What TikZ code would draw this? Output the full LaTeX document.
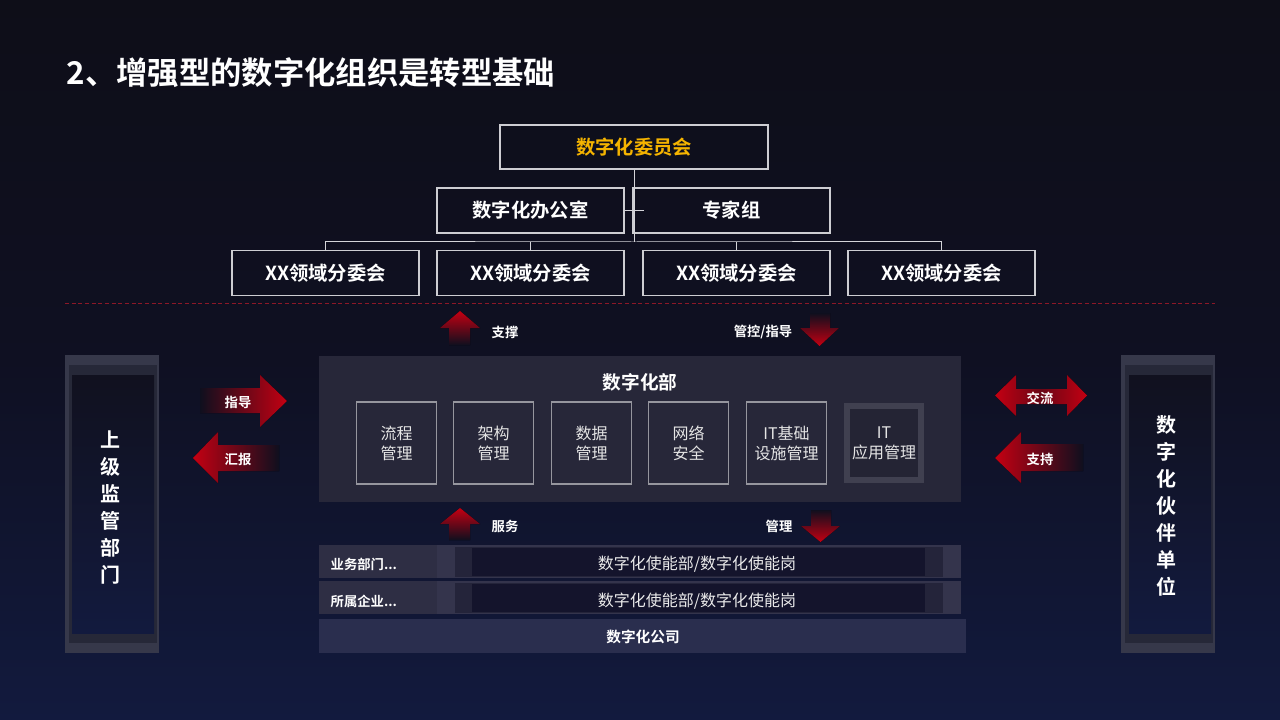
\documentclass[tikz,border=0pt]{standalone}
\usepackage{fontspec}
\setmainfont{Noto Sans CJK SC}[BoldFont={* Bold}]
\usetikzlibrary{arrows.meta}

\definecolor{bgtop}{RGB}{14,14,24}
\definecolor{bgmid}{RGB}{15,16,34}
\definecolor{bgbot}{RGB}{18,26,62}
\definecolor{tailbg}{RGB}{15,15,30}
\definecolor{panel}{RGB}{39,39,57}
\definecolor{boxline}{RGB}{205,205,210}
\definecolor{subline}{RGB}{150,150,158}
\definecolor{gold}{RGB}{245,180,0}
\definecolor{arrred}{RGB}{196,0,18}
\definecolor{arrdark}{RGB}{105,6,22}
\definecolor{dashred}{RGB}{140,24,40}
\definecolor{sideouter}{RGB}{54,56,74}
\definecolor{sidemid}{RGB}{38,40,56}
\definecolor{sideinner}{RGB}{17,17,31}
\definecolor{rowlabel}{RGB}{46,46,68}
\definecolor{rowouter}{RGB}{52,52,76}
\definecolor{rowmid}{RGB}{36,36,58}
\definecolor{rowinner}{RGB}{20,20,44}
\definecolor{company}{RGB}{42,46,78}
\definecolor{appframe}{RGB}{64,64,80}
\definecolor{appfill}{RGB}{36,36,52}

\begin{document}
\begin{tikzpicture}[x=0.75pt,y=-0.75pt,
  orgbox/.style={draw=boxline, line width=1pt, inner sep=0pt, minimum width=140.25pt,
    minimum height=33.75pt, text=white, font=\fontsize{14.5}{16}\selectfont\bfseries},
  orgline/.style={draw=boxline!85, line width=0.75pt},
  unitbox/.style={draw=subline, line width=1pt, fill=panel, inner sep=0pt, minimum width=60pt,
    minimum height=61.5pt, align=center, text=white!90!black, font=\fontsize{12}{15}\selectfont},
  arrlabel/.style={text=white, font=\fontsize{10}{12}\selectfont\bfseries},
  sidetext/.style={text=white, align=center, font=\fontsize{15}{20.25}\selectfont\bfseries},
  rowtext/.style={text=white!92!black, font=\fontsize{12}{14}\selectfont}]

\useasboundingbox (0,0) rectangle (1280,720);

% Background
\shade[top color=bgtop, bottom color=bgbot, middle color=bgmid] (0,0) rectangle (1280,720);

% Title
\node[anchor=west, text=white, font=\fontsize{23.5}{26}\selectfont\bfseries] (title) at (62,73)
  {2、增强型的数字化组织是转型基础};

% Committee tree
\node[orgbox, minimum width=201pt, minimum height=33pt, text=gold] (cmte) at (634,147) {数字化委员会};
\node[orgbox] (office) at (530.5,210.5) {数字化办公室};
\node[orgbox, minimum width=147.75pt] (expert) at (731.5,210.5) {专家组};
\node[orgbox] (sub1) at (325.5,273) {XX领域分委会};
\node[orgbox] (sub2) at (530.5,273) {XX领域分委会};
\node[orgbox] (sub3) at (736.5,273) {XX领域分委会};
\node[orgbox] (sub4) at (941.5,273) {XX领域分委会};

\coordinate (bus) at (634,242);
\draw[orgline] (cmte.south) -- (bus);
\draw[orgline] (office.east) -- ++(19,0);
\draw[orgline] (sub1.north) |- (bus) -| (sub4.north);
\draw[orgline] (sub2.north) -- (sub2.north |- bus);
\draw[orgline] (sub3.north) -- (sub3.north |- bus);

% Separator
\draw[dashred, line width=0.75pt, dash pattern=on 3pt off 2pt] (65,303) -- (1215,303);

% Arrows between committee and department
\fill[top color=arrred, bottom color=tailbg] (449,345) -- (449,328) -- (440,328) -- (460,311)
  -- (480,328) -- (470,328) -- (470,345) -- cycle;
\node[arrlabel] (support) at (505,332) {支撑};
\fill[top color=tailbg, bottom color=arrred] (810,313) -- (810,328) -- (800,328) -- (819.5,346)
  -- (839,328) -- (830,328) -- (830,313) -- cycle;
\node[arrlabel] (control) at (763,332) {管控/指导};

% Department panel
\node[fill=panel, minimum width=481.5pt, minimum height=109.5pt, inner sep=0pt] (dept) at (640,428.5) {};
\node[text=white, font=\fontsize{14}{16}\selectfont\bfseries] (depttitle) at (640,382) {数字化部};

\node[unitbox] (flow) at (396.5,443) {流程\\管理};
\node[unitbox] (arch) at (493.5,443) {架构\\管理};
\node[unitbox] (data) at (591.5,443) {数据\\管理};
\node[unitbox] (net) at (688.5,443) {网络\\安全};
\node[unitbox] (infra) at (786.5,443) {IT基础\\设施管理};
\node[unitbox, draw=appframe, fill=appfill, line width=4.5pt, minimum width=55.5pt,
  minimum height=56pt] (app) at (884,443) {IT\\应用管理};

% Superior side
\fill[sideouter] (65,355) rectangle (159,653);
\fill[sidemid] (69,365) rectangle (157,643);
\shade[top color=sideinner, bottom color=bgbot] (72,375) rectangle (154,633);
\node[sidetext] (superior) at (110,508) {上\\级\\监\\管\\部\\门};

\fill[left color=tailbg, right color=arrred] (200,388) -- (260,388) -- (260,375) -- (287,401)
  -- (260,427) -- (260,413) -- (200,413) -- cycle;
\node[arrlabel] (guide) at (238,402) {指导};
\fill[left color=arrred, right color=tailbg] (279,445) -- (218,445) -- (218,432) -- (193,458)
  -- (218,483) -- (218,471) -- (279,471) -- cycle;
\node[arrlabel] (report) at (238,459) {汇报};

% Partner side
\fill[sideouter] (1121,355) rectangle (1215,653);
\fill[sidemid] (1125,365) rectangle (1213,643);
\shade[top color=sideinner, bottom color=bgbot] (1129,375) rectangle (1211,633);
\node[sidetext] (partner) at (1166,506) {数\\字\\化\\伙\\伴\\单\\位};

\fill[left color=arrred, right color=arrred, middle color=arrdark] (995,395.5) -- (1016,375)
  -- (1016,389) -- (1067,389) -- (1067,375) -- (1087,395.5) -- (1067,416) -- (1067,404)
  -- (1016,404) -- (1016,416) -- cycle;
\node[arrlabel] (exchange) at (1040,398) {交流};
\fill[left color=arrred, right color=tailbg] (1083,444) -- (1021,444) -- (1021,432) -- (995,458)
  -- (1021,483) -- (1021,471) -- (1083,471) -- cycle;
\node[arrlabel] (backing) at (1040,459) {支持};

% Arrows between department and business units
\fill[top color=arrred, bottom color=tailbg] (449,540) -- (449,524) -- (440,524) -- (460,508)
  -- (480,524) -- (470,524) -- (470,540) -- cycle;
\node[arrlabel] (serve) at (505,526) {服务};
\fill[top color=tailbg, bottom color=arrred] (811,510) -- (811,526) -- (801,526) -- (820.5,542)
  -- (840,526) -- (831,526) -- (831,510) -- cycle;
\node[arrlabel] (manage) at (779,526) {管理};

% Business rows
\fill[rowlabel] (319,545) rectangle (437,578);
\fill[rowouter] (437,545) rectangle (961,578);
\fill[rowmid] (455,547) rectangle (943,577);
\fill[rowinner] (472,548) rectangle (925,576);
\node[arrlabel, anchor=west] (bizdept) at (326,564) {业务部门...};
\node[rowtext] (enable1) at (697,564) {数字化使能部/数字化使能岗};

\fill[rowlabel] (319,581) rectangle (437,614);
\fill[rowouter] (437,581) rectangle (961,614);
\fill[rowmid] (455,583) rectangle (943,613);
\fill[rowinner] (472,584) rectangle (925,612);
\node[arrlabel, anchor=west] (affil) at (326,601) {所属企业...};
\node[rowtext] (enable2) at (697,601) {数字化使能部/数字化使能岗};

\fill[company] (319,619) rectangle (966,653);
\node[text=white, font=\fontsize{11}{13}\selectfont\bfseries] (digco) at (643,637) {数字化公司};

\end{tikzpicture}
\end{document}
